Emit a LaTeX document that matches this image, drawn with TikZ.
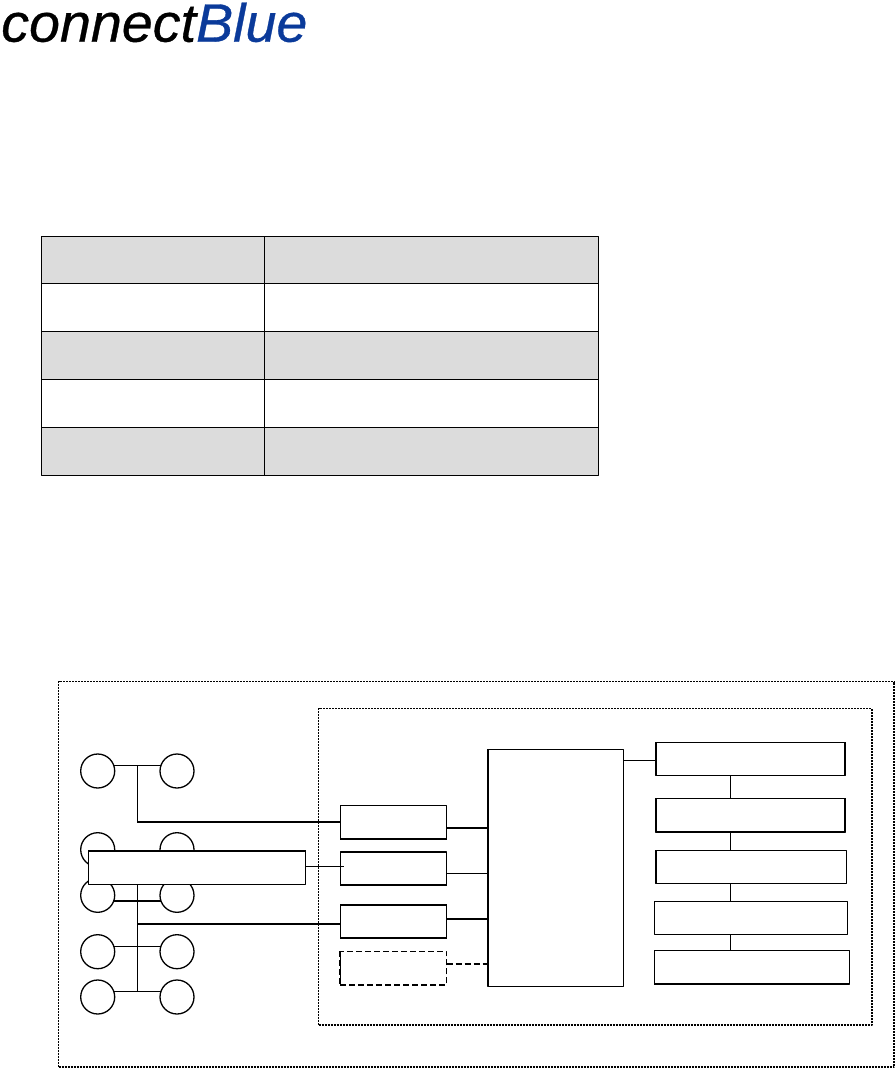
\documentclass[tikz,border=0pt]{standalone}
\usepackage{fontspec}
\setmainfont{Liberation Sans}
\newfontfamily\logofont[FakeBold=0.6,FakeStretch=1.03]{Liberation Sans}
\usepackage{xcolor}
\usepackage{tikz}
\usetikzlibrary{calc}
\definecolor{logoblue}{HTML}{0A3A9A}
\definecolor{rowgray}{HTML}{DCDCDC}
\def\pxu{0.75pt}
\tikzset{
  tableline/.style={line width=1*\pxu},
  thinline/.style={line width=1.2*\pxu},
  thickline/.style={line width=2*\pxu},
  dotline/.style={line width=1.2*\pxu,dash pattern=on 1.5pt off 0.75pt},
  dotheavy/.style={line width=1.8*\pxu,dash pattern=on 1.5pt off 0.75pt},
  dashline/.style={line width=1.4*\pxu,dash pattern=on 6*\pxu off 3*\pxu},
  dashheavy/.style={line width=2*\pxu,dash pattern=on 6*\pxu off 3*\pxu},
  blockbox/.style={draw,fill=white,thinline,inner sep=0pt,outer sep=0pt},
  hostcirc/.style={circle,draw,fill=white,line width=1.3*\pxu,inner sep=0pt,outer sep=0pt,minimum size=34*\pxu},
}
\begin{document}
\begin{tikzpicture}[x=0.75pt,y=-0.75pt,line join=round]
  \useasboundingbox (0,0) rectangle (895,1068);
  % logo
  \node[anchor=base west,inner sep=0pt,font=\fontsize{40.5}{40.5}\logofont\itshape] (logo) at (1,41.7) {connect\textcolor{logoblue}{Blue}};
  % table
  \fill[rowgray] (41,236) rectangle (598,283.5);
  \fill[rowgray] (41,331.5) rectangle (598,379.5);
  \fill[rowgray] (41,427.5) rectangle (598,475);
  \draw[tableline] (41,236) rectangle (598,475);
  \draw[tableline] (41,283.5) -- (598,283.5);
  \draw[tableline] (41,331.5) -- (598,331.5);
  \draw[tableline] (41,379.5) -- (598,379.5);
  \draw[tableline] (41,427.5) -- (598,427.5);
  \draw[tableline] (264.5,236) -- (264.5,475);
  % dotted frames
  \draw[dotline] (58.5,1067) -- (58.5,681.7) -- (894.3,681.7);
  \draw[dotheavy] (58.5,1067) -- (894.3,1067) -- (894.3,681.7);
  \draw[dotline] (318.7,1025) -- (318.7,708.3) -- (872,708.3);
  \draw[dotheavy] (318.7,1025) -- (872,1025) -- (872,708.3);
  % hosts
  \node[hostcirc] (HostAL) at (97.7,771) {};
  \node[hostcirc] (HostAR) at (177,771) {};
  \node[hostcirc] (HostBL) at (97.7,849.7) {};
  \node[hostcirc] (HostBR) at (177,849.7) {};
  \node[hostcirc] (HostCL) at (97.7,895.3) {};
  \node[hostcirc] (HostCR) at (177,895.3) {};
  \node[hostcirc] (HostDL) at (97.7,951.7) {};
  \node[hostcirc] (HostDR) at (177,951.7) {};
  \node[hostcirc] (HostEL) at (97.7,997) {};
  \node[hostcirc] (HostER) at (177,997) {};
  % blocks
  \node[blockbox,minimum width=217.4*\pxu,minimum height=33.6*\pxu] (Wide) at (197,867.5) {};
  \node[blockbox,minimum width=106.4*\pxu,minimum height=33.7*\pxu] (PortA) at (393.5,822.2) {};
  \node[blockbox,minimum width=106.4*\pxu,minimum height=33*\pxu] (PortB) at (393.5,868.5) {};
  \node[blockbox,minimum width=106.4*\pxu,minimum height=33.3*\pxu] (PortC) at (393.5,921.3) {};
  \node[blockbox,dashline,minimum width=106.4*\pxu,minimum height=33.7*\pxu] (PortD) at (393.5,968.2) {};
  \node[blockbox,minimum width=135.3*\pxu,minimum height=237*\pxu] (Core) at (555.7,867.8) {};
  \node[blockbox,minimum width=189.6*\pxu,minimum height=33*\pxu] (StackA) at (750.5,758.8) {};
  \node[blockbox,minimum width=189.6*\pxu,minimum height=33.7*\pxu] (StackB) at (750.5,815.2) {};
  \node[blockbox,minimum width=191*\pxu,minimum height=33*\pxu] (StackC) at (751.2,866.8) {};
  \node[blockbox,minimum width=193.4*\pxu,minimum height=33*\pxu] (StackD) at (751,917.8) {};
  \node[blockbox,minimum width=195*\pxu,minimum height=33.7*\pxu] (StackE) at (751.8,967.2) {};
  % heavier edges
  \draw[thickline] (Wide.north west) -- (Wide.north east);
  \draw[thickline] (PortA.south west) -- (PortA.south east);
  \draw[thickline] (PortB.south west) -- (PortB.south east);
  \draw[thickline] (PortC.north west) -- (PortC.north east);
  \draw[thickline] (PortC.south west) -- (PortC.south east);
  \draw[dashheavy] (PortD.south west) -- (PortD.south east);
  \draw[dashheavy] (PortD.north west) -- (PortD.south west);
  \draw[thickline] (Core.north west) -- (Core.south west);
  \draw[thickline] (StackA.north west) -- (StackA.south west);
  \draw[thickline] (StackA.north east) -- (StackA.south east);
  \draw[thickline] (StackB.north west) -- (StackB.south west);
  \draw[thickline] (StackB.north east) -- (StackB.south east);
  \draw[thickline] (StackB.south west) -- (StackB.south east);
  \draw[thickline] (StackC.north west) -- (StackC.south west);
  \draw[thickline] (StackE.south west) -- (StackE.south east);
  % bus
  \coordinate (BusTop) at (137.3,765.3);
  \coordinate (BusEnd) at (137.3,991.3);
  \coordinate (BusTap) at (137.3,924);
  \coordinate (WideTap) at (344,866.3);
  \coordinate (CoreTap) at (488,760.3);
  \coordinate (SpineX) at (730.3,0);
  \draw[thinline] (HostAL.20) -- (HostAR.160);
  \draw[thinline] (BusTop) -- (BusTop |- PortA.west);
  \draw[thickline] (BusTop |- PortA.west) -- (PortA.west);
  \draw[thinline] (Wide.south -| BusEnd) -- (BusEnd);
  \draw[thickline] (HostCL.-20) -- (HostCR.200);
  \draw[thickline] (BusTap) -- (BusTap -| PortC.west);
  \draw[thinline] (HostDL.17) -- (HostDR.163);
  \draw[thinline] (HostEL.20) -- (HostER.160);
  \draw[thinline] (Wide.east |- WideTap) -- (WideTap);
  % ports to core
  \draw[thickline] (PortA.east |- 0,828) -- (Core.west |- 0,828);
  \draw[thinline] (PortB.east |- 0,873.3) -- (Core.west |- 0,873.3);
  \draw[thickline] (PortC.east |- 0,919) -- (Core.west |- 0,919);
  \draw[dashline] (PortD.east |- 0,964) -- (Core.west |- 0,964);
  % core to stack
  \draw[thinline] (Core.east |- CoreTap) -- (StackA.west |- CoreTap);
  \draw[thinline] (SpineX |- StackA.south) -- (SpineX |- StackB.north);
  \draw[thinline] (SpineX |- StackB.south) -- (SpineX |- StackC.north);
  \draw[thinline] (SpineX |- StackC.south) -- (SpineX |- StackD.north);
  \draw[thinline] (SpineX |- StackD.south) -- (SpineX |- StackE.north);
\end{tikzpicture}
\end{document}
